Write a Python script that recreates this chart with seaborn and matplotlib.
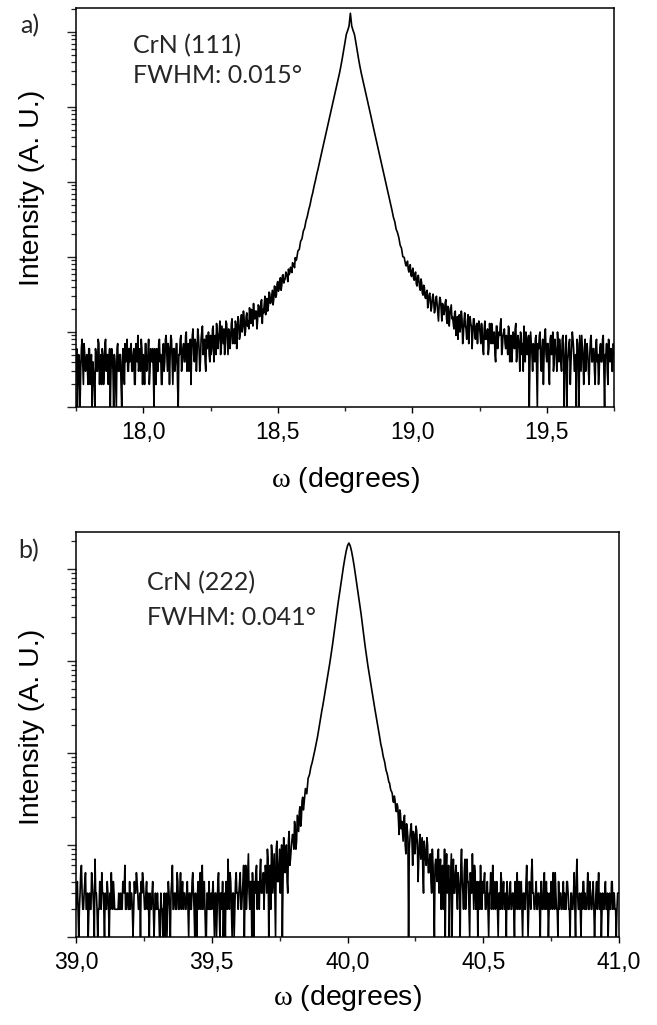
import numpy as np
import matplotlib
matplotlib.use("Agg")
import matplotlib.pyplot as plt
import seaborn as sns
from matplotlib.ticker import LogLocator, NullFormatter, MultipleLocator, FixedLocator

# ---- data (counts) ----
# main scan points every 0.005 deg
start_a = 17.75
counts_a = [
    3, 1, 5, 1, 6, 4, 7, 3, 5, 2, 6, 4, 1, 3, 1, 5, 3, 7, 4, 2,
    5, 3, 8, 4, 2, 6, 3, 5, 1, 4, 1, 7, 3, 5, 1, 6, 2, 4, 8, 3,
    4, 7, 3, 6, 2, 5, 9, 4, 3, 6, 5, 2, 7, 4, 8, 3, 5, 6, 1, 4,
    6, 3, 8, 5, 2, 7, 4, 9, 3, 6, 5, 8, 2, 6, 4, 7, 1, 5, 9, 4,
    7, 4, 10, 5, 3, 8, 6, 11, 4, 7, 5, 9, 3, 8, 12, 6, 4, 9, 7, 5,
    9, 6, 12, 7, 5, 10, 8, 14, 6, 9, 11, 7, 13, 5, 10, 8, 15, 9, 7, 12,
    11, 14, 9, 17, 12, 15, 10, 18, 14, 21, 13, 16, 24, 15, 19, 14, 22, 17, 27, 20,
    24, 17, 28, 22, 33, 25, 36, 27, 40, 31, 47, 38, 53, 42, 58, 49, 63, 55, 69, 62,
    68, 84, 77, 98, 93, 121, 126, 162, 175, 221, 244, 303, 349, 425, 494, 611, 716, 879, 1043, 1268,
    1503, 1828, 2190, 2630, 3160, 3800, 4570, 5500, 6610, 7940,
    9550, 11500, 13800, 16600, 20000, 24000, 28800, 35500, 44700, 57500,
    74100, 93300, 104700, 120200, 177800, 120200, 104700, 93300, 74100, 57500,
    44700, 35500, 28800, 24000, 20000, 16600, 13800, 11500, 9550, 7940,
    6550, 5440, 4520, 3760, 3120, 2600, 2160, 1800, 1490, 1240,
    1035, 858, 711, 596, 489, 415, 338, 296, 236, 212,
    182, 144, 131, 101, 99, 80, 84, 69, 74, 58, 66, 52, 60, 44, 53, 47, 36, 45, 31, 40,
    28, 36, 24, 33, 19, 29, 25, 20, 30, 17, 23, 27, 14, 22, 19, 27, 13, 21, 17, 23,
    16, 11, 19, 13, 8, 17, 12, 15, 9, 18, 11, 14, 7, 16, 12, 10, 15, 8, 13, 11,
    12, 7, 10, 5, 14, 8, 11, 6, 9, 13, 7, 10, 4, 12, 8, 9, 15, 6, 10, 7,
    9, 5, 11, 7, 4, 10, 6, 13, 5, 8, 3, 9, 7, 12, 4, 8, 6, 1, 10, 5,
    7, 4, 9, 1, 6, 10, 3, 8, 5, 11, 4, 7, 2, 9, 6, 3, 8, 5, 10, 4,
    6, 3, 9, 1, 7, 1, 5, 8, 4, 10, 6, 3, 1, 7, 1, 5, 9, 4, 6, 3,
    7, 3, 5, 9, 4, 6, 2, 8, 5, 3, 7, 4, 9, 1, 5, 3, 8, 4, 6, 3,
    5,
]
# extra tail points half way between the main ones (index of first slot)
mid_left_a_from = 0
mid_left_a = [
    6, 2, 4, 3, 8, 2, 5, 4, 3, 6, 2, 5, 4, 2, 6, 3, 8, 2, 5, 6,
    2, 7, 3, 5, 4, 1, 6, 3, 5, 2, 6, 3, 5, 2, 4, 3, 7, 5, 3, 6,
    6, 3, 5, 2, 7, 4, 3, 6, 8, 2, 4, 7, 3, 5, 2, 6, 4, 3, 6, 2,
    3, 7, 4, 2, 6, 3, 8, 5, 7, 2, 9, 4, 6, 3, 7, 2, 5, 8, 3, 6,
    4, 9, 3, 7, 6, 2, 9, 5, 8, 3, 11, 6, 4, 10, 5, 8, 3, 6, 10, 4,
    5, 11, 4, 9, 13, 6, 10, 5, 12, 7, 5, 14, 8, 11, 6, 13, 7, 11, 14, 6,
    16, 8, 13, 10, 19, 9, 16, 12, 11, 17, 20, 12, 15, 19, 11, 23, 16, 25, 13, 18,
    30, 21, 19, 34, 24, 30, 23, 41, 29, 44, 35, 49, 36, 57, 45, 51, 60, 47, 58, 73,
    62, 81, 72, 90,
]
mid_right_a_from = 245
mid_right_a = [
    76, 88, 63, 79, 55, 71, 49, 63, 41, 57, 39, 51, 33, 42, 29,
    34, 21, 31, 26, 22, 32, 18, 28, 23, 14, 29, 20, 24, 17, 25, 15, 22, 12, 20, 15,
    13, 18, 9, 16, 14, 10, 19, 7, 14, 12, 8, 17, 11, 13, 6, 15, 9, 12, 7, 14,
    9, 13, 6, 11, 8, 10, 5, 13, 7, 11, 9, 5, 12, 6, 10, 13, 5, 9, 11, 6,
    7, 12, 4, 9, 6, 8, 11, 4, 9, 6, 10, 5, 3, 8, 10, 5, 9, 4, 7, 3,
    5, 8, 3, 7, 9, 4, 6, 2, 9, 5, 7, 3, 8, 5, 10, 4, 6, 3, 7, 8,
    4, 8, 5, 3, 9, 4, 7, 2, 6, 8, 3, 5, 8, 4, 9, 3, 6, 2, 8, 5,
    5, 2, 8, 4, 6, 3, 7, 4, 2, 6, 4, 8, 3, 5, 7, 2, 5, 6, 3, 7,
]

start_b = 39.0
counts_b = [
    2, 4, 1, 3, 6, 2, 3, 5, 2, 1, 3, 2, 4, 2, 7, 3, 1, 2, 3, 5,
    3, 1, 2, 4, 2, 3, 5, 2, 3, 2, 2, 2, 2, 3, 2, 4, 6, 2, 3, 2,
    2, 3, 1, 4, 3, 4, 2, 3, 4, 5, 3, 2, 4, 3, 1, 2, 3, 2, 2, 2,
    3, 2, 1, 2, 1, 3, 2, 1, 4, 2, 3, 6, 2, 3, 2, 4, 2, 5, 3, 2,
    3, 2, 4, 1, 3, 2, 5, 2, 3, 1, 4, 3, 2, 6, 3, 2, 1, 3, 4, 2,
    2, 4, 1, 3, 2, 5, 1, 3, 4, 2, 1, 3, 7, 2, 4, 1, 3, 2, 5, 3,
    3, 5, 2, 4, 1, 6, 3, 8, 2, 4, 5, 1, 3, 6, 4, 2, 7, 3, 5, 4,
    5, 9, 1, 6, 10, 3, 8, 1, 11, 4, 9, 6, 1, 12, 5, 10, 3, 14, 7, 11,
    12, 18, 9, 21, 14, 26, 19, 33, 28, 41, 36, 53, 58, 70, 79, 92, 108, 129, 152, 187,
    234, 282, 339, 417, 513, 631, 776, 955, 1200, 1510,
    1950, 2510, 3240, 4170, 5250, 6610, 8320, 10500, 12900, 15500,
    17800, 19050, 17800, 15500, 12900, 10500, 8320, 6610, 5250, 4170,
    3240, 2450, 1880, 1440, 1130, 890, 720, 580, 470, 380,
    310, 255, 210, 172, 140, 116, 97, 84, 70, 61, 52, 47, 39, 36, 29, 31, 23, 26, 13, 22,
    18, 11, 21, 8, 15, 1, 12, 17, 6, 13, 9, 14, 4, 11, 7, 12, 3, 9, 6, 10,
    5, 8, 3, 6, 1, 7, 4, 9, 5, 2, 6, 3, 1, 8, 4, 1, 5, 1, 7, 3,
    6, 2, 4, 1, 9, 3, 5, 2, 7, 4, 1, 3, 8, 2, 5, 3, 1, 4, 6, 2,
    3, 5, 2, 4, 1, 3, 2, 6, 3, 2, 4, 1, 3, 5, 2, 4, 2, 1, 3, 2,
    4, 2, 3, 1, 2, 5, 3, 2, 4, 1, 3, 2, 6, 1, 4, 2, 7, 3, 2, 4,
    2, 3, 1, 4, 2, 5, 3, 2, 1, 3, 4, 2, 3, 5, 2, 1, 2, 3, 2, 4,
    3, 2, 4, 2, 1, 3, 2, 5, 1, 7, 2, 3, 1, 2, 4, 3, 2, 5, 2, 3,
    2, 4, 1, 3, 2, 5, 2, 1, 3, 2, 4, 2, 1, 3, 2, 4, 3, 2, 1, 3,
    3,
]
mid_left_b_from = 0
mid_left_b = [
    3, 2, 2, 5, 3, 2, 4, 2, 3, 2, 2, 5, 3, 1, 3, 2, 2, 4, 2, 3,
    2, 3, 2, 3, 1, 2, 3, 4, 2, 2, 2, 3, 2, 2, 4, 3, 2, 3, 2, 4,
    3, 2, 2, 3, 5, 3, 2, 1, 3, 4, 2, 3, 2, 2, 3, 2, 4, 1, 3, 2,
    2, 1, 3, 2, 2, 1, 3, 2, 3, 1, 4, 2, 3, 2, 5, 2, 3, 2, 4, 3,
    2, 3, 2, 3, 2, 4, 3, 1, 2, 3, 2, 5, 3, 2, 4, 1, 3, 2, 2, 3,
    3, 2, 3, 1, 4, 2, 3, 2, 1, 3, 4, 2, 3, 5, 2, 3, 1, 4, 3, 2,
    4, 2, 3, 6, 3, 2, 5, 3, 4, 1, 3, 4, 5, 2, 3, 5, 3, 4, 2, 6,
    3, 7, 4, 2, 8, 5, 3, 9, 4, 6, 3, 10, 4, 7, 9, 4, 11, 6, 9, 13,
    9, 15, 11, 17, 23, 16, 30, 24,
]
mid_right_b_from = 224
mid_right_b = [
    125, 108, 89, 78, 64, 57, 48, 42, 38, 30, 34, 25, 28, 19, 24, 15,
    14, 19, 10, 17, 12, 9, 15, 11, 14, 8, 16, 10, 7, 13, 9, 5, 11, 7, 12, 5,
    7, 4, 9, 3, 6, 5, 8, 3, 7, 4, 2, 9, 5, 3, 6, 3, 8, 4, 3, 5,
    3, 5, 3, 6, 4, 2, 7, 3, 4, 2, 5, 3, 4, 6, 2, 4, 3, 2, 3, 4,
    4, 2, 3, 2, 3, 5, 3, 2, 4, 3, 2, 3, 2, 4, 3, 2, 3, 4, 2, 3,
    2, 3, 2, 4, 3, 2, 4, 3, 2, 3, 2, 4, 3, 2, 3, 5, 3, 2, 3, 2,
    3, 2, 4, 2, 3, 2, 4, 3, 2, 2, 3, 5, 2, 3, 2, 4, 3, 2, 3, 2,
    2, 4, 3, 2, 3, 2, 3, 2, 4, 3, 2, 2, 3, 4, 2, 2, 3, 2, 4, 2,
    3, 2, 2, 4, 3, 2, 3, 2, 2, 3, 2, 3, 2, 2, 4, 2, 3, 2, 2, 3,
]

step = 0.005
ticks_a = [18.0, 18.5, 19.0, 19.5]
tick_labels_a = ["18,0", "18,5", "19,0", "19,5"]
ticks_b = [39.0, 39.5, 40.0, 40.5, 41.0]
tick_labels_b = ["39,0", "39,5", "40,0", "40,5", "41,0"]


def scan(start, main, mids):
    xs = [start + step * np.arange(len(main))]
    ys = [np.asarray(main, float)]
    for first, vals in mids:
        xs.append(start + step / 2 + step * (first + np.arange(len(vals))))
        ys.append(np.asarray(vals, float))
    x = np.round(np.concatenate(xs), 4)
    y = np.concatenate(ys)
    order = np.argsort(x)
    return x[order], y[order]


x_a, y_a = scan(start_a, counts_a, [(mid_left_a_from, mid_left_a), (mid_right_a_from, mid_right_a)])
x_b, y_b = scan(start_b, counts_b, [(mid_left_b_from, mid_left_b), (mid_right_b_from, mid_right_b)])

sns.set_style("ticks")
plt.rcParams['font.family'] = ['Liberation Sans', 'DejaVu Sans']
plt.rcParams['mathtext.fontset'] = 'custom'
plt.rcParams['mathtext.rm'] = 'Liberation Serif'
plt.rcParams['axes.edgecolor'] = 'black'

W, H = 657, 1025
fig = plt.figure(figsize=(W / 100, H / 100), dpi=100)
fig.patch.set_facecolor('white')

ax_a = fig.add_axes([76 / W, 1 - 407 / H, 538 / W, 399 / H])
ax_b = fig.add_axes([76 / W, 1 - 937 / H, 543 / W, 405 / H])


def style(ax, xlim, ticks, labels, ytop, ylab_y, xlab_y):
    ax.set_yscale('log')
    ax.set_xlim(*xlim)
    ax.set_ylim(1, ytop)
    ax.xaxis.set_major_locator(FixedLocator(ticks))
    ax.set_xticklabels(labels)
    ax.xaxis.set_minor_locator(MultipleLocator(0.25))
    ax.yaxis.set_major_locator(LogLocator(base=10, numticks=20))
    ax.yaxis.set_minor_locator(LogLocator(base=10, subs=np.arange(2, 10), numticks=20))
    ax.yaxis.set_major_formatter(NullFormatter())
    ax.yaxis.set_minor_formatter(NullFormatter())
    ax.tick_params(axis='x', which='major', direction='out', length=4.5, width=1,
                   labelsize=16.5, pad=5.5, colors='black')
    ax.tick_params(axis='x', which='minor', direction='out', length=3, width=1)
    ax.tick_params(axis='y', which='major', direction='out', length=6.5, width=1)
    ax.tick_params(axis='y', which='minor', direction='out', length=3.5, width=0.9)
    for s in ax.spines.values():
        s.set_linewidth(1.1)
        s.set_color('black')
    ax.set_ylabel("Intensity (A. U.)", fontsize=20.5, color='black')
    ax.yaxis.set_label_coords(-0.058, ylab_y)
    ax.set_xlabel(r"$\mathrm{\omega}$ (degrees)", fontsize=20.5, color='black')
    ax.xaxis.set_label_coords(0.5, xlab_y)
    ax.set_facecolor('white')


sns.lineplot(x=x_a, y=y_a, ax=ax_a, color='black', linewidth=1.2, estimator=None)
sns.lineplot(x=x_b, y=y_b, ax=ax_b, color='black', linewidth=1.2, estimator=None)

style(ax_a, (17.75, 19.75), ticks_a, tick_labels_a, 10 ** 5.32, 0.55, -0.146)
style(ax_b, (39.0, 41.0), ticks_b, tick_labels_b, 10 ** 4.40, 0.52, -0.114)

note_font = ['Lato', 'DejaVu Sans']
ax_a.text(0.106, 0.887, "CrN (111)", transform=ax_a.transAxes, fontsize=18,
          family=note_font, va='baseline')
ax_a.text(0.106, 0.812, "FWHM: 0.015°", transform=ax_a.transAxes, fontsize=18,
          family=note_font, va='baseline')
ax_b.text(0.131, 0.857, "CrN (222)", transform=ax_b.transAxes, fontsize=18,
          family=note_font, va='baseline')
ax_b.text(0.131, 0.770, "FWHM: 0.041°", transform=ax_b.transAxes, fontsize=18,
          family=note_font, va='baseline')

fig.text(20 / W, 1 - 33 / H, "a)", fontsize=18, family=note_font, va='baseline')
fig.text(18 / W, 1 - 558 / H, "b)", fontsize=18, family=note_font, va='baseline')

fig.savefig("out.png", dpi=100)
plt.close('all')
